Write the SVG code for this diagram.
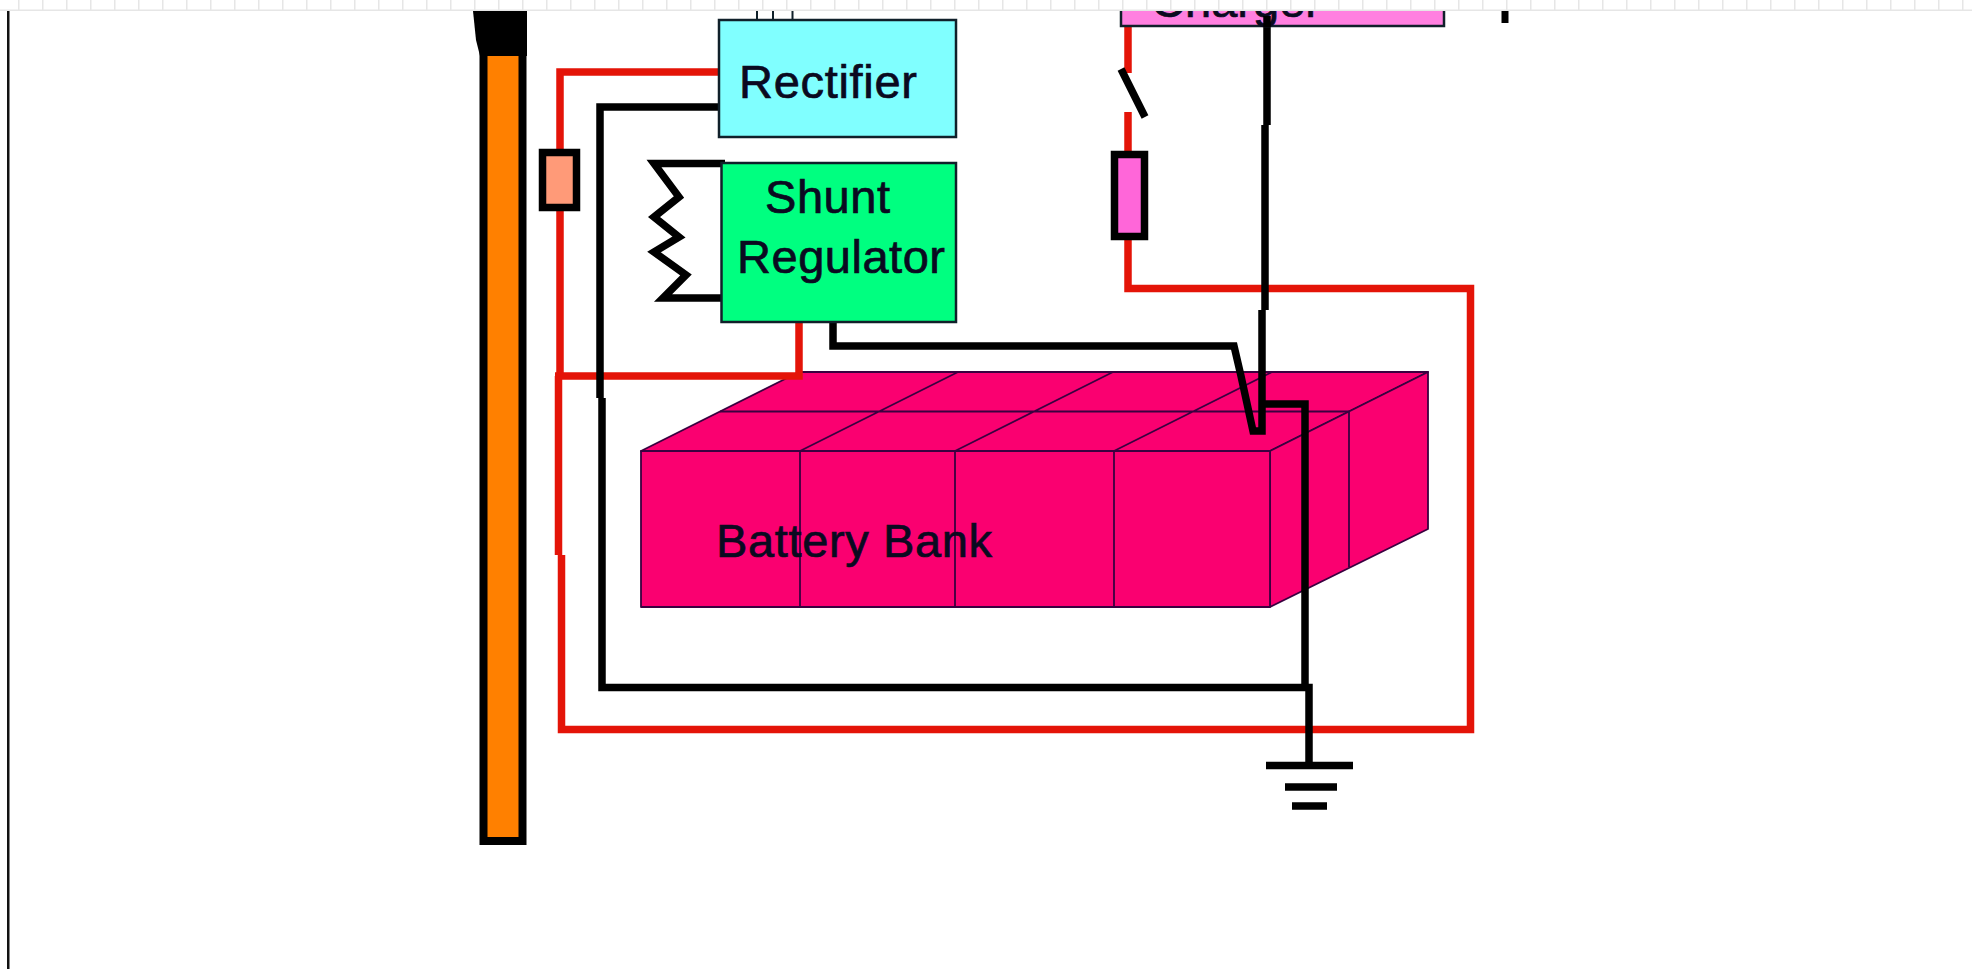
<svg xmlns="http://www.w3.org/2000/svg" width="1972" height="969" viewBox="0 0 1972 969">
<style>
.lbl{font-family:"Liberation Sans",Arial,sans-serif;font-size:47px;fill:#0a0a20;stroke:#0a0a20;stroke-width:.7}
.red{fill:none;stroke:#e41408;stroke-width:7.5}
.blk{fill:none;stroke:#000;stroke-width:7.5}
.edge{fill:#fa0070;stroke:#3a0040;stroke-width:1.8;stroke-linejoin:round}
.line{fill:none;stroke:#3a0040;stroke-width:1.8}
.box{stroke:#10202a;stroke-width:2.5}
</style>
<defs>
<pattern id="grid" x="18" y="0" width="24" height="11" patternUnits="userSpaceOnUse">
<rect width="24" height="11" fill="#fff"/>
<rect width="1.5" height="11" fill="#e6e6e6"/>
<rect y="9.5" width="24" height="1.5" fill="#e6e6e6"/>
</pattern>
</defs>
<rect width="1972" height="969" fill="#fff"/>
<rect x="7" y="11" width="2.5" height="958" fill="#111"/>
<g id="earth-rod">
<rect x="483.5" y="50" width="39" height="791" fill="#ff8000" stroke="#000" stroke-width="8"/>
<polygon points="473,11 527,11 527,56 480,56 476,40" fill="#000"/>
</g>
<g id="battery-bank">
<polygon class="edge" points="641,451 799,372 1428,372 1270,451"/>
<polygon class="edge" points="1270,451 1428,372 1428,529 1270,607"/>
<rect class="edge" x="641" y="451" width="629" height="156"/>
<path class="line" d="M720,411.5H1349M800,451V607M955,451V607M1114,451V607M1349,411.5V567M800,451L958,372M955,451L1113,372M1114,451L1272,372"/>
<text class="lbl" x="716" y="557" textLength="276" lengthAdjust="spacing">Battery Bank</text>
</g>
<g id="connectors">
<path class="red" d="M720,72H560V376M555,376H799V322M558.5,376V555M561.5,555V729.5H1470.5V288.5H1128V240"/>
<path class="red" d="M1128,26V73M1128,112V152"/>
<path class="blk" d="M720,107H600V398M602,398V687.5H1305M1305,687.5H1309V765"/>
<path class="blk" d="M833,322V346H1234L1241,376L1253,431H1262V310M1265,310V125M1267,125V26"/>
<path class="blk" d="M1262,404H1305V687"/>
<path class="blk" d="M1121,69L1145,117"/>
<path class="blk" stroke-width="8" d="M725,163.5H654L679,197L654,217L679,237L654,252L686,275L663,298H725"/>
<path d="M757,11V20M773,11V20M792.5,11V20" fill="none" stroke="#10202a" stroke-width="2"/>
<path d="M1505,11V23" fill="none" stroke="#000" stroke-width="7"/>
</g>
<g id="ground">
<path d="M1266,765.5H1353M1285,787H1337M1292,806H1327" fill="none" stroke="#000" stroke-width="7.5"/>
</g>
<g id="resistor-left">
<rect x="542.5" y="152.5" width="34" height="55" fill="#ff9a78" stroke="#000" stroke-width="7.5"/>
</g>
<g id="resistor-right">
<rect x="1114.5" y="154.5" width="30" height="82" fill="#ff66d9" stroke="#000" stroke-width="7.5"/>
</g>
<g id="rectifier">
<rect class="box" x="719" y="20" width="237" height="117" fill="#80ffff"/>
<text class="lbl" x="739" y="98" textLength="178" lengthAdjust="spacing">Rectifier</text>
</g>
<g id="shunt-regulator">
<rect class="box" x="721.5" y="163" width="234.5" height="159" fill="#00ff80"/>
<text class="lbl" x="765" y="213" textLength="125" lengthAdjust="spacing">Shunt</text>
<text class="lbl" x="737" y="273" textLength="208" lengthAdjust="spacing">Regulator</text>
</g>
<g id="charger">
<rect class="box" x="1121" y="4" width="323" height="22" fill="#ff80e0"/>
<text class="lbl" x="1151" y="17" textLength="170" lengthAdjust="spacing">Charger</text>
<path d="M1267,16V27" fill="none" stroke="#000" stroke-width="7.5"/>
</g>
<rect id="top-band" width="1972" height="11" fill="url(#grid)"/>
</svg>
